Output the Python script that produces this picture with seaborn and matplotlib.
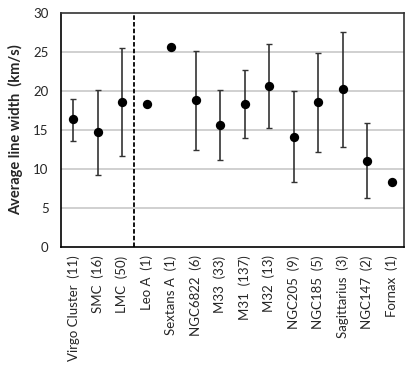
import numpy as np
import pandas as pd
import matplotlib
matplotlib.use("Agg")
import matplotlib.pyplot as plt
import seaborn as sns

galaxies = ["Virgo Cluster  (11)", "SMC  (16)", "LMC  (50)", "Leo A  (1)", "Sextans A  (1)",
            "NGC6822  (6)", "M33  (33)", "M31  (137)", "M32  (13)", "NGC205  (9)",
            "NGC185  (5)", "Sagittarius  (3)", "NGC147  (2)", "Fornax  (1)"]
mean_width = [16.4, 14.7, 18.6, 18.3, 25.6, 18.8, 15.7, 18.3, 20.6, 14.1, 18.6, 20.3, 11.1, 8.4]
err_upper = [19.0, 20.2, 25.5, np.nan, np.nan, 25.1, 20.2, 22.7, 26.0, 20.0, 24.9, 27.6, 15.9, np.nan]
err_lower = [13.6, 9.3, 11.7, np.nan, np.nan, 12.4, 11.2, 14.0, 15.3, 8.4, 12.2, 12.9, 6.3, np.nan]
y_ticks = [0, 5, 10, 15, 20, 25, 30]

sns.set_theme(style="white")
plt.rcParams['font.family'] = ['Lato', 'DejaVu Sans']

df = pd.DataFrame({"galaxy": galaxies, "width": mean_width,
                   "hi": err_upper, "lo": err_lower})

fig = plt.figure(figsize=(4.15, 3.65), dpi=100)
ax = fig.add_axes([0.147, 0.323, 0.826, 0.641])

for y in y_ticks[1:-1]:
    ax.axhline(y, color="#c8c8c8", lw=1.2, zorder=0)

pos = np.arange(len(galaxies))
m = df["hi"].notna().values
ax.errorbar(pos[m], df["width"].values[m],
            yerr=[df["width"].values[m] - df["lo"].values[m], df["hi"].values[m] - df["width"].values[m]],
            fmt="none", ecolor="#333333", elinewidth=1.2, capsize=2, capthick=1, zorder=2)

sns.scatterplot(data=df, x="galaxy", y="width", ax=ax, color="black", s=45,
                edgecolor="black", linewidth=0, zorder=3)

ax.axvline(2.5, color="black", lw=1.3, ls=(0, (2.5, 1.2)), zorder=2)

ax.set_xlim(-0.5, len(galaxies) - 0.5)
ax.set_ylim(0, 30)
ax.set_yticks(y_ticks)
ax.set_xticks(pos)
ax.set_xticklabels(galaxies, rotation=90, fontsize=9.5)
ax.tick_params(axis="y", labelsize=9.5, length=0, pad=9)
ax.tick_params(axis="x", length=0, pad=6)
ax.set_xlabel("")
ax.set_ylabel("Average line width  (km/s)", fontsize=10.5, fontweight="bold", labelpad=7)
for s in ax.spines.values():
    s.set_visible(True)
    s.set_color("black")
    s.set_linewidth(1.2)
ax.spines["top"].set_color("#333333")
ax.spines["right"].set_color("#333333")

fig.savefig("out.png", dpi=100)
